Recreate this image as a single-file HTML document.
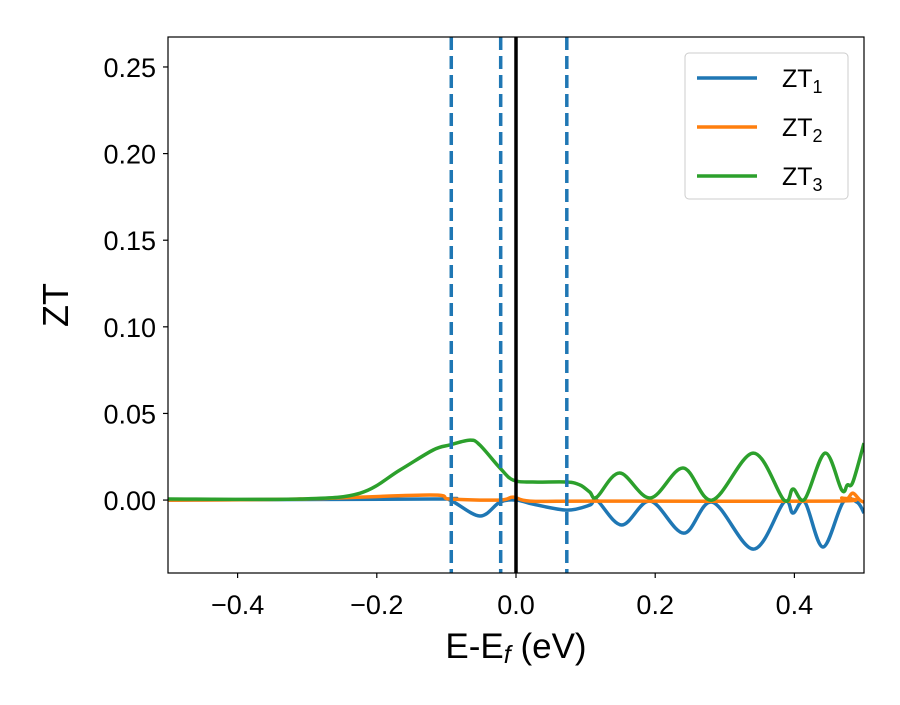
<!DOCTYPE html>
<html><head><meta charset="utf-8"><style>
body{margin:0;background:#fff}
text{font-family:"Liberation Sans","DejaVu Sans",sans-serif;fill:#000}
</style></head><body>
<svg id="chart" width="900" height="700" xmlns="http://www.w3.org/2000/svg">
<rect width="900" height="700" fill="#fff"/>
<g id="plot"></g>
<g id="axes"></g>
</svg>
<script>
const xTicks=[-0.4,-0.2,0.0,0.2,0.4];
const xTickLabels=["\u22120.4","\u22120.2","0.0","0.2","0.4"];
const yTicks=[0,0.05,0.10,0.15,0.20,0.25];
const yTickLabels=["0.00","0.05","0.10","0.15","0.20","0.25"];
const vDashed=[-0.093,-0.022,0.073];
const ztX1=[-0.5,-0.119,-0.095,-0.052,-0.023,0.001,0.024,0.073,0.106,0.116,0.152,0.193,0.241,0.282,0.341,0.385,0.398,0.415,0.441,0.470,0.490,0.500];
const ztY1=[0,0.0006,0,-0.0092,-0.0012,0,-0.0023,-0.0058,-0.0029,0,-0.0144,-0.0006,-0.0191,-0.0012,-0.0283,-0.0012,-0.0075,-0.0012,-0.0271,-0.0012,-0.0012,-0.0075];
const ztX2=[-0.5,-0.310,-0.124,-0.095,-0.023,-0.004,0.020,0.106,0.46,0.468,0.476,0.484,0.494,0.5];
const ztY2=[0,0.0006,0.0029,0.0006,0,0.0017,-0.0006,-0.0006,-0.0006,0.0012,0.0006,0.0040,0,-0.0012];
const ztX3=[-0.5,-0.310,-0.224,-0.167,-0.119,-0.095,-0.066,-0.052,-0.023,-0.004,0.024,0.073,0.092,0.106,0.116,0.149,0.193,0.240,0.282,0.341,0.385,0.398,0.415,0.444,0.468,0.476,0.484,0.500];
const ztY3=[0.0006,0.0006,0.0040,0.0173,0.0289,0.0318,0.0346,0.0318,0.0185,0.0115,0.0104,0.0104,0.0087,0.0046,0.0017,0.0156,0.0012,0.0185,0,0.0271,0,0.0064,0.0006,0.0271,0.0058,0.0087,0.0104,0.0329];

const L=168,R=864,T=37,B=573;
const xMin=-0.5,xMax=0.5,yMin=-0.0421,yMax=0.2673;
const sx=v=>L+(v-xMin)/(xMax-xMin)*(R-L);
const sy=v=>B-(v-yMin)/(yMax-yMin)*(B-T);
const NS="http://www.w3.org/2000/svg";
const plot=document.getElementById('plot'),axes=document.getElementById('axes');
function mk(tag,attrs,parent){const e=document.createElementNS(NS,tag);for(const k in attrs)e.setAttribute(k,attrs[k]);parent.appendChild(e);return e;}
function smooth(xs,ys){const p=xs.map((x,i)=>[sx(x),sy(ys[i])]);let d=`M${p[0][0]},${p[0][1]}`;
for(let i=0;i<p.length-1;i++){const p0=p[i-1]||p[i],p1=p[i],p2=p[i+1],p3=p[i+2]||p2;
const c1=[p1[0]+(p2[0]-p0[0])/6,p1[1]+(p2[1]-p0[1])/6],c2=[p2[0]-(p3[0]-p1[0])/6,p2[1]-(p3[1]-p1[1])/6];
d+=`C${c1[0]},${c1[1]} ${c2[0]},${c2[1]} ${p2[0]},${p2[1]}`;}return d;}
const cp=mk('clipPath',{id:'cp'},plot);mk('rect',{x:L,y:T,width:R-L,height:B-T},cp);
const g=mk('g',{'clip-path':'url(#cp)'},plot);
const series=[[ztX1,ztY1,'#1f77b4','zt1-line'],[ztX2,ztY2,'#ff7f0e','zt2-line'],[ztX3,ztY3,'#2ca02c','zt3-line']];
series.forEach(s=>{const e=mk('path',{d:smooth(s[0],s[1]),fill:'none',stroke:s[2],'stroke-width':3.5,'stroke-linejoin':'round'},g);

});
vDashed.forEach(v=>{const e=mk('line',{x1:sx(v),x2:sx(v),y1:T,y2:B,stroke:'#1f77b4','stroke-width':3.5,'stroke-dasharray':'13,6'},g);

});
const z=mk('line',{x1:sx(0),x2:sx(0),y1:T,y2:B,stroke:'#000','stroke-width':3.5},g);


const fr=mk('rect',{x:L,y:T,width:R-L,height:B-T,fill:'none',stroke:'#000','stroke-width':1.2},axes);


xTicks.forEach((v,i)=>{mk('line',{x1:sx(v),x2:sx(v),y1:B,y2:B+5,stroke:'#000','stroke-width':1.2},axes);
const t=mk('text',{x:sx(v),y:B+41,'text-anchor':'middle','font-size':27},axes);t.textContent=xTickLabels[i];

});
yTicks.forEach((v,i)=>{mk('line',{x1:L-5,x2:L,y1:sy(v),y2:sy(v),stroke:'#000','stroke-width':1.2},axes);
const t=mk('text',{x:L-12,y:sy(v)+10,'text-anchor':'end','font-size':27},axes);t.textContent=yTickLabels[i];

});
</script>
<svg style="position:absolute;left:0;top:0" width="900" height="700" xmlns="http://www.w3.org/2000/svg">
<text x="516" y="658" text-anchor="middle" font-size="35">E-E<tspan font-style="italic" font-size="25" dy="5">f</tspan><tspan dy="-5"> (eV)</tspan></text>
<text transform="translate(68,305) rotate(-90)" text-anchor="middle" font-size="36">ZT</text>
<g>
<rect x="685" y="53" width="163" height="146" rx="4" fill="#fff" fill-opacity="0.85" stroke="#ccc"/>
<line x1="697" x2="757" y1="78" y2="78" stroke="#1f77b4" stroke-width="3.5"/>
<line x1="697" x2="757" y1="127" y2="127" stroke="#ff7f0e" stroke-width="3.5"/>
<line x1="697" x2="757" y1="176" y2="176" stroke="#2ca02c" stroke-width="3.5"/>
<text x="782" y="87" font-size="25">ZT<tspan font-size="18" dy="6">1</tspan></text>
<text x="782" y="136" font-size="25">ZT<tspan font-size="18" dy="6">2</tspan></text>
<text x="782" y="185" font-size="25">ZT<tspan font-size="18" dy="6">3</tspan></text>
</g>
</svg>
</body></html>
